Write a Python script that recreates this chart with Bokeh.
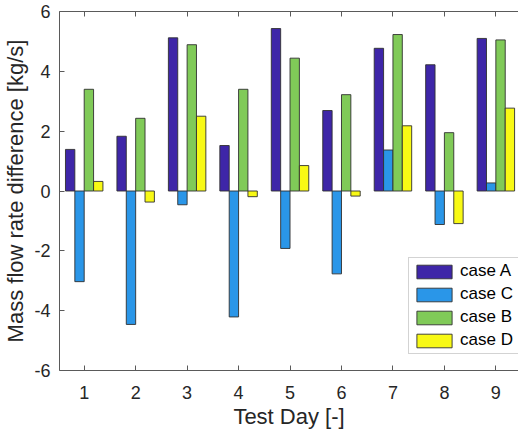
from bokeh.plotting import figure
from bokeh.models import (ColumnDataSource, LinearAxis, FixedTicker, Range1d, Legend, LegendItem,
                          CustomLabelingPolicy)
from bokeh.transform import dodge
from bokeh.embed import file_html
from bokeh.resources import INLINE

days = [1, 2, 3, 4, 5, 6, 7, 8, 9]
case_a = [1.39, 1.83, 5.12, 1.52, 5.43, 2.69, 4.77, 4.22, 5.10]
case_c = [-3.03, -4.46, -0.46, -4.21, -1.92, -2.77, 1.37, -1.12, 0.27]
case_b = [3.40, 2.43, 4.89, 3.40, 4.44, 3.22, 5.23, 1.95, 5.05]
case_d = [0.32, -0.37, 2.50, -0.19, 0.85, -0.17, 2.18, -1.09, 2.77]
series_names = ["case A", "case C", "case B", "case D"]
y_ticks = [-6, -4, -2, 0, 2, 4, 6]

colors = ["#3E26A8", "#2A96E8", "#80CA58", "#F8F915"]
FONT = "Liberation Sans"
TXT = "#262626"
AX = "#5a5a5a"

src = ColumnDataSource(dict(day=days, a=case_a, c=case_c, b=case_b, d=case_d))

p = figure(width=518, height=432, output_backend="svg", toolbar_location=None,
           x_range=Range1d(0.52, 9.44), y_range=Range1d(-6, 6),
           min_border_left=56, min_border_right=0, min_border_top=11, min_border_bottom=62,
           x_axis_label="Test Day [-]", y_axis_label="Mass flow rate difference [kg/s]")
p.outline_line_color = None
p.xgrid.visible = False
p.ygrid.visible = False
p.background_fill_color = "white"
p.border_fill_color = "white"

bw = 0.182
offsets = [-1.5 * bw, -0.5 * bw, 0.5 * bw, 1.5 * bw]
renderers = []
for key, off, col in zip(["a", "c", "b", "d"], offsets, colors):
    r = p.vbar(x=dodge("day", off, range=p.x_range), top=key, bottom=0, width=bw, source=src,
               fill_color=col, line_color="#303030", line_width=0.9)
    renderers.append(r)

for ax in p.xaxis:
    ax.ticker = FixedTicker(ticks=days)
for ax in p.yaxis:
    ax.ticker = FixedTicker(ticks=y_ticks)
    ax.major_label_overrides = {t: str(t) for t in y_ticks}

for ax in list(p.xaxis) + list(p.yaxis):
    ax.major_tick_in = 5
    ax.major_tick_out = 0
    ax.minor_tick_line_color = None
    ax.axis_line_color = AX
    ax.major_tick_line_color = AX
    ax.major_label_text_font = FONT
    ax.major_label_text_font_size = "18px"
    ax.major_label_text_color = TXT
    ax.axis_label_text_font = FONT
    ax.axis_label_text_font_size = "22px"
    ax.axis_label_text_font_style = "normal"
    ax.axis_label_text_color = TXT

p.xaxis.major_label_standoff = 15
p.xaxis.axis_label_standoff = 2
p.yaxis.major_label_standoff = 9
p.yaxis.axis_label_standoff = 3

no_labels = CustomLabelingPolicy(code="""
    for (const i of indices) { indices.unset(i) }
    return indices
""")
top = LinearAxis(ticker=FixedTicker(ticks=days), major_tick_in=5, major_tick_out=0,
                 minor_tick_line_color=None, axis_line_color=AX, major_tick_line_color=AX,
                 major_label_policy=no_labels, major_label_text_font_size="1px",
                 major_label_standoff=0)
p.add_layout(top, "above")

legend = Legend(items=[LegendItem(label=n, renderers=[r]) for n, r in zip(series_names, renderers)],
                location=(349, 16), orientation="vertical",
                label_text_font=FONT, label_text_font_size="17px", label_text_color="black",
                glyph_width=44, glyph_height=17, label_height=17, label_width=59, spacing=3,
                padding=3, margin=0, label_standoff=4,
                border_line_color="#a8a8a8", border_line_width=1,
                background_fill_color="white", background_fill_alpha=1)
p.add_layout(legend, "center")

open("out.html", "w").write(file_html(p, INLINE))
